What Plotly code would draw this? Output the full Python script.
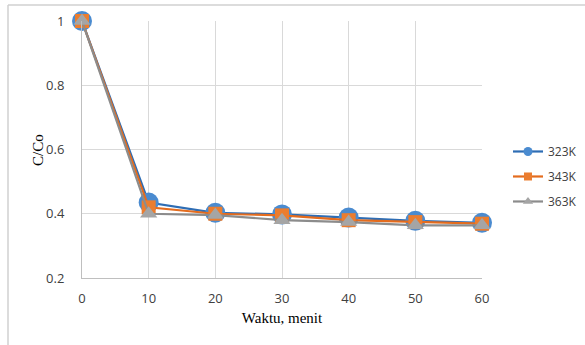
import plotly.graph_objects as go

waktu = [0, 10, 20, 30, 40, 50, 60]
k323 = [1.0, 0.435, 0.403, 0.398, 0.388, 0.378, 0.372]
k343 = [1.0, 0.420, 0.400, 0.395, 0.380, 0.374, 0.369]
k363 = [1.0, 0.400, 0.396, 0.380, 0.374, 0.364, 0.364]
names = ["323K", "343K", "363K"]

series = [k323, k343, k363]
line_colors = ["#2E6DB4", "#E46C1E", "#8C8C8C"]
marker_colors = ["#4A8BD0", "#EB7D2F", "#A5A5A5"]
symbols = ["circle", "square", "triangle-up"]
sizes = [20, 14, 15]
legend_sizes = [9, 8, 9]

fig = go.Figure()
for i, ys in enumerate(series):
    fig.add_trace(go.Scatter(x=waktu, y=ys, name=names[i], mode="lines+markers",
                             showlegend=False, cliponaxis=False,
                             line=dict(color=line_colors[i], width=2.2),
                             marker=dict(symbol=symbols[i], size=sizes[i], color=marker_colors[i])))
for i in range(3):
    fig.add_trace(go.Scatter(x=[None], y=[None], name=names[i], mode="lines+markers",
                             legendgroup=names[i],
                             line=dict(color=line_colors[i], width=2.2),
                             marker=dict(symbol=symbols[i], size=legend_sizes[i], color=marker_colors[i])))

fig.update_layout(
    width=585, height=345,
    margin=dict(l=82, r=103, t=21, b=67, autoexpand=False),
    paper_bgcolor="white", plot_bgcolor="white",
    font=dict(family="Open Sans, Calibri, sans-serif", size=12, color="#404040"),
    legend=dict(x=1.065, y=0.395, yanchor="middle", xanchor="left",
                font=dict(size=12, color="#404040"), itemwidth=30,
                tracegroupgap=6, bgcolor="rgba(0,0,0,0)"),
    xaxis=dict(range=[0, 60], tickvals=waktu, showgrid=True, gridcolor="#D9D9D9",
               zeroline=False, showline=True, linecolor="#BFBFBF", linewidth=1,
               ticks="", ticklabelstandoff=8, tickfont=dict(size=13, color="#404040"),
               title=dict(text="Waktu, menit", font=dict(family="Liberation Serif, Times New Roman, serif", size=15, color="#000"), standoff=6)),
    yaxis=dict(range=[0.2, 1.0], tickvals=[0.2, 0.4, 0.6, 0.8, 1.0],
               ticktext=["0.2", "0.4", "0.6", "0.8", "1"],
               showgrid=True, gridcolor="#D9D9D9", zeroline=False,
               showline=True, linecolor="#BFBFBF", linewidth=1, ticks="",
               ticklabelstandoff=14,
               tickfont=dict(size=13, color="#404040")),
    showlegend=True,
)
fig.add_annotation(text="C/Co", xref="paper", yref="paper", x=-0.11, y=0.498,
                   xanchor="center", yanchor="middle", textangle=-90, showarrow=False,
                   font=dict(family="Liberation Serif, Times New Roman, serif", size=15, color="#000"))
fig.add_shape(type="line", xref="paper", yref="paper", x0=-0.185, x1=1.26, y0=1.062, y1=1.062,
              line=dict(color="#D0D0D0", width=1.5), layer="below")
fig.add_shape(type="line", xref="paper", yref="paper", x0=-0.185, x1=-0.185, y0=1.062, y1=-0.27,
              line=dict(color="#D0D0D0", width=1.5), layer="below")
fig.write_html("out.html", config={"displayModeBar": False})

with open("out.html", encoding="utf-8") as f:
    html = f.read()
html = html.replace("<head>", "<head><style>html,body{margin:0;padding:0;overflow:hidden;}</style>", 1)
with open("out.html", "w", encoding="utf-8") as f:
    f.write(html)
